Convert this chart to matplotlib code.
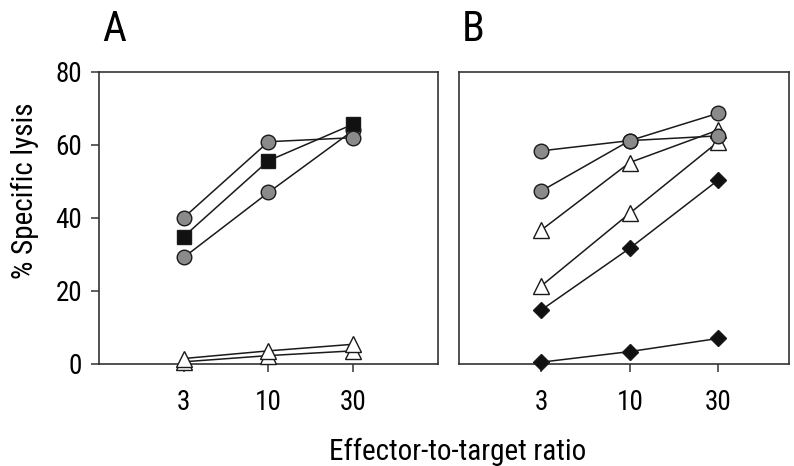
import matplotlib
matplotlib.use("Agg")
import matplotlib.pyplot as plt
from matplotlib import font_manager

# pick a narrow-looking family if one is there
names = {f.name for f in font_manager.fontManager.ttflist}
wanted = ['Roboto Condensed', 'Open Sans Condensed', 'Liberation Sans Narrow', 'Lato']
family = [n for n in wanted if n in names] + ['DejaVu Sans']
plt.rcParams['font.family'] = family

ratios = ['3', '10', '30']
xpos = [0, 1, 2]

# panel A
a_circle1 = [40.1, 60.9, 62.0]
a_circle2 = [29.2, 47.0, 64.0]
a_square = [34.9, 55.7, 65.7]
a_tri1 = [1.5, 3.6, 5.4]
a_tri2 = [0.6, 2.3, 3.6]

# panel B
b_circle1 = [58.4, 61.2, 62.5]
b_circle2 = [47.4, 61.2, 68.7]
b_tri1 = [36.7, 55.2, 64.1]
b_tri2 = [21.4, 41.3, 60.9]
b_diam1 = [14.8, 31.7, 50.4]
b_diam2 = [0.5, 3.4, 7.0]

gray = '#8a8a8a'
edge = '#1a1a1a'
styles = {
    'circle': dict(marker='o', markersize=10.5, markerfacecolor=gray),
    'square': dict(marker='s', markersize=9.5, markerfacecolor='#111111'),
    'tri': dict(marker='^', markersize=11, markerfacecolor='white'),
    'diam': dict(marker='D', markersize=8, markerfacecolor='#111111'),
}


def draw(ax, y, kind):
    ax.plot(xpos, y, color=edge, linewidth=1.1, markeredgecolor=edge,
            markeredgewidth=1.0, clip_on=False, zorder=3, **styles[kind])


fig = plt.figure(figsize=(7.94, 4.66), dpi=100)
axA = fig.add_axes([0.1247, 0.2189, 0.4269, 0.6266])
axB = fig.add_axes([0.5781, 0.2189, 0.4156, 0.6266])

draw(axA, a_tri2, 'tri')
draw(axA, a_tri1, 'tri')
draw(axA, a_circle2, 'circle')
draw(axA, a_square, 'square')
draw(axA, a_circle1, 'circle')

draw(axB, b_diam2, 'diam')
draw(axB, b_diam1, 'diam')
draw(axB, b_tri2, 'tri')
draw(axB, b_tri1, 'tri')
draw(axB, b_circle2, 'circle')
draw(axB, b_circle1, 'circle')

axA.set_xlim(-1, 3)
axB.set_xlim(-0.93, 2.8)
for ax in (axA, axB):
    ax.set_ylim(0, 80)
    ax.set_xticks(xpos)
    ax.set_xticklabels(ratios)
    for s in ax.spines.values():
        s.set_color('#333333')
        s.set_linewidth(1.2)
    ax.tick_params(axis='both', direction='out', length=6, width=1.1,
                   color='#333333', labelsize=19.5, pad=12)

axA.set_yticks([0, 20, 40, 60, 80])
axA.tick_params(axis='y', pad=6)
axB.set_yticks([])

fig.text(0.031, 0.59, '% Specific lysis', fontsize=21, rotation=90,
         ha='center', va='center')
fig.text(0.576, 0.03, 'Effector-to-target ratio', fontsize=21,
         ha='center', va='center')
fig.text(0.129, 0.936, 'A', fontsize=30, ha='left', va='center')
fig.text(0.582, 0.936, 'B', fontsize=30, ha='left', va='center')

fig.savefig('out.png', dpi=100)
